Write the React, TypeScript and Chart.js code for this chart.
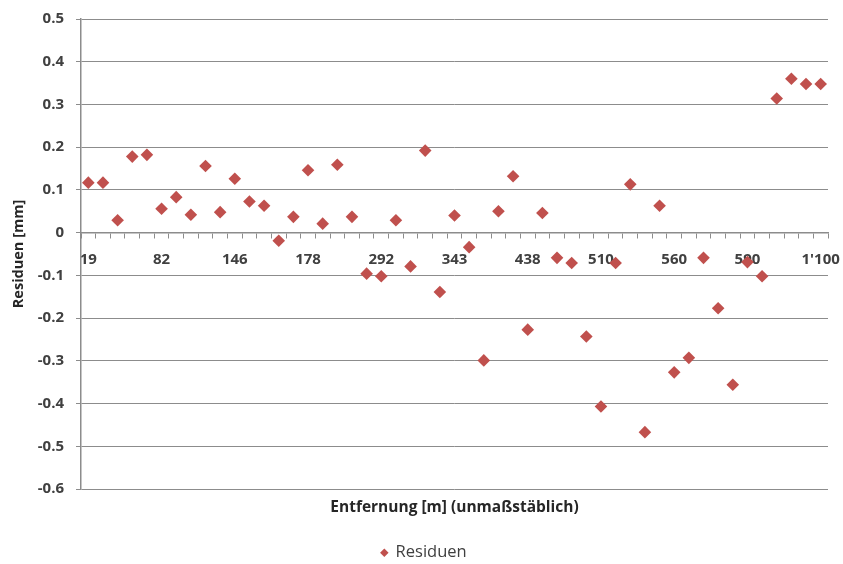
import React, { useEffect, useRef } from 'react';
import { Chart, registerables } from 'chart.js';

Chart.register(...registerables);

// Labels shown on the category axis (every fifth category)
const tickLabels = ['19', '82', '146', '178', '292', '343', '438', '510', '560', '590', "1'100"];
const labelEvery = 5;

// Residuals per measured distance (mm)
const residuen = [
  0.117, 0.117, 0.029, 0.178, 0.182, 0.056, 0.083, 0.042, 0.156, 0.048,
  0.126, 0.073, 0.063, -0.019, 0.037, 0.146, 0.021, 0.159, 0.037, -0.096,
  -0.102, 0.029, -0.079, 0.192, -0.139, 0.040, -0.034, -0.299, 0.050, 0.132,
  -0.227, 0.046, -0.059, -0.071, -0.243, -0.407, -0.071, 0.113, -0.467, 0.063,
  -0.327, -0.293, -0.059, -0.177, -0.356, -0.069, -0.102, 0.314, 0.360, 0.348,
  0.348,
];

const categories = residuen.map((_, i) => (i % labelEvery === 0 ? tickLabels[i / labelEvery] : ''));

const FONT = "'Open Sans', 'DejaVu Sans', sans-serif";
const GRID = '#8c8c8c';
const TEXT = '#404040';
const MARKER = '#c0504d';

const shiftLegend = {
  id: 'shiftLegend',
  afterLayout(chart: any) {
    const lg = chart.legend;
    if (!lg) return;
    lg.left += 10;
    lg.right += 10;
    lg.top += 2;
    lg.bottom += 2;
  },
};

export default function App() {
  const ref = useRef<HTMLCanvasElement | null>(null);

  useEffect(() => {
    if (!ref.current) return;
    const chart = new Chart(ref.current, {
      type: 'line',
      data: {
        labels: categories,
        datasets: [
          {
            label: 'Residuen',
            data: residuen,
            showLine: false,
            pointStyle: 'rectRot',
            pointRadius: 6.3,
            pointBackgroundColor: MARKER,
            pointBorderColor: MARKER,
            pointBorderWidth: 0,
            backgroundColor: MARKER,
            borderColor: MARKER,
            xAxisID: 'x',
            yAxisID: 'y',
          },
        ],
      },
      plugins: [shiftLegend],
      options: {
        animation: false,
        responsive: true,
        maintainAspectRatio: false,
        layout: { padding: { top: 19, right: 15, left: 0, bottom: -5 } },
        plugins: {
          tooltip: { enabled: false },
          legend: {
            position: 'bottom',
            labels: {
              usePointStyle: true,
              pointStyle: 'rectRot',
              boxWidth: 6,
              boxHeight: 6,
              padding: 0,
              color: TEXT,
              font: { family: FONT, size: 16.5 },
            },
          },
        },
        scales: {
          x: {
            type: 'category',
            position: { y: 0 },
            offset: true,
            grid: {
              offset: true,
              drawOnChartArea: false,
              drawTicks: true,
              tickLength: 5,
              color: GRID,
              lineWidth: 1,
            },
            border: { display: true, color: GRID, width: 1.5 },
            ticks: {
              autoSkip: false,
              maxRotation: 0,
              minRotation: 0,
              padding: 13,
              color: TEXT,
              font: { family: FONT, size: 15, weight: 'bold' },
            },
            afterFit: (scale: any) => {
              scale.paddingLeft = 0;
              scale.paddingRight = 0;
            },
          },
          x2: {
            type: 'category',
            position: 'bottom',
            grid: { display: false },
            border: { display: false },
            ticks: { display: false },
            title: {
              display: true,
              text: 'Entfernung [m] (unmaßstäblich)',
              color: '#262626',
              font: { family: FONT, size: 15.5, weight: 'bold' },
              padding: { top: 0, bottom: 26 },
            },
            afterFit: (scale: any) => {
              scale.height = 53.5;
              scale.paddingLeft = 0;
              scale.paddingRight = 0;
            },
          },
          y: {
            type: 'linear',
            min: -0.6,
            max: 0.5,
            grid: {
              color: GRID,
              lineWidth: 1,
              tickLength: 5,
              drawTicks: true,
            },
            border: { display: true, color: GRID, width: 1.5 },
            ticks: {
              stepSize: 0.1,
              padding: 12,
              color: TEXT,
              font: { family: FONT, size: 15, weight: 'bold' },
              callback: (v: any) => (Math.abs(Number(v)) < 1e-9 ? '0' : Number(v).toFixed(1)),
            },
            title: {
              display: true,
              text: 'Residuen [mm]',
              color: '#262626',
              font: { family: FONT, size: 14.5, weight: 'bold' },
              padding: { top: 10, bottom: 0 },
            },
            afterFit: (scale: any) => {
              scale.width = 81;
              scale.paddingTop = 0;
              scale.paddingBottom = 0;
            },
          },
        },
      },
    });
    return () => chart.destroy();
  }, []);

  return (
    <div style={{ position: 'fixed', left: 0, top: 0, width: 843, height: 564, background: '#fff' }}>
      <canvas ref={ref} />
    </div>
  );
}
